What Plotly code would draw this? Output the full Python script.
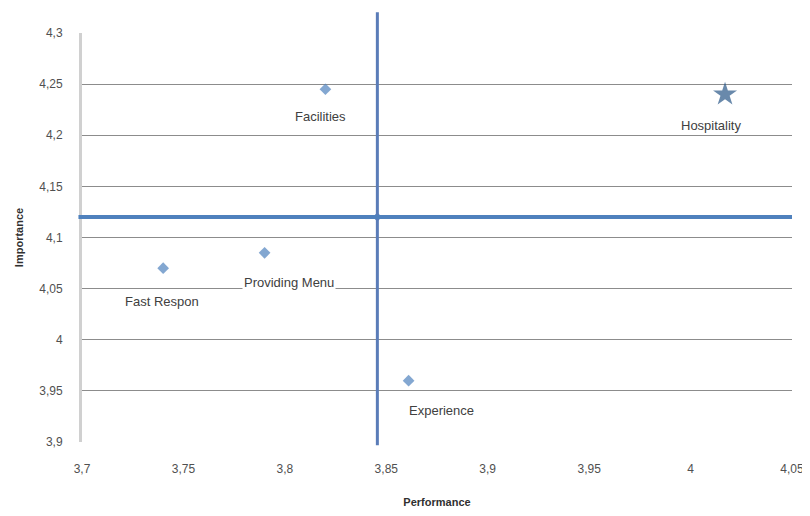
import plotly.graph_objects as go

# Data
attributes = ["Facilities", "Hospitality", "Fast Respon", "Providing Menu", "Experience"]
performance = [3.82, 4.017, 3.74, 3.79, 3.861]
importance = [4.245, 4.24, 4.07, 4.085, 3.96]
marker_symbols = ["diamond", "star", "diamond", "diamond", "diamond"]

x_tick_vals = [3.7, 3.75, 3.8, 3.85, 3.9, 3.95, 4.0, 4.05]
x_tick_text = ["3,7", "3,75", "3,8", "3,85", "3,9", "3,95", "4", "4,05"]
y_tick_vals = [3.9, 3.95, 4.0, 4.05, 4.1, 4.15, 4.2, 4.25, 4.3]
y_tick_text = ["3,9", "3,95", "4", "4,05", "4,1", "4,15", "4,2", "4,25", "4,3"]

mean_x = sum(performance) / len(performance)
mean_y = sum(importance) / len(importance)

# label offsets in pixels (xshift, yshift)
label_shift = {
    "Facilities": (-5, -27),
    "Hospitality": (-14, -31),
    "Fast Respon": (-1, -33),
    "Providing Menu": (24, -30),
    "Experience": (33, -30),
}

fig = go.Figure()

# quadrant lines
fig.add_shape(type="line", xref="x", yref="paper", x0=mean_x, x1=mean_x,
              y0=-0.008, y1=1.051, line=dict(color="#5A7CB8", width=3), layer="above")
fig.add_shape(type="line", xref="paper", yref="y", x0=-0.005, x1=1.0,
              y0=mean_y, y1=mean_y, line=dict(color="#4F81BD", width=4), layer="above")

sizes = [9 if s == "diamond" else 18 for s in marker_symbols]
colors = ["#4F81BD" if s == "diamond" else "#2A5788" for s in marker_symbols]

fig.add_trace(go.Scatter(
    x=performance, y=importance, mode="markers",
    marker=dict(symbol=marker_symbols, size=sizes, color=colors, line=dict(width=0)),
    showlegend=False, hoverinfo="skip", cliponaxis=False,
))
fig.add_trace(go.Scatter(
    x=[mean_x], y=[mean_y], mode="markers",
    marker=dict(symbol="diamond", size=7, color="#4F81BD"),
    showlegend=False, hoverinfo="skip",
))

for name, xv, yv in zip(attributes, performance, importance):
    dx, dy = label_shift[name]
    fig.add_annotation(x=xv, y=yv, text=name, showarrow=False,
                       xshift=dx, yshift=dy, bgcolor="white",
                       font=dict(family="Liberation Sans", size=13, color="#404040"))

fig.update_xaxes(range=[3.69999, 4.05001], tickvals=x_tick_vals, ticktext=x_tick_text,
                 showgrid=False, zeroline=False, showline=False, automargin=False,
                 tickfont=dict(family="Liberation Sans", size=12, color="#505050"),
                 ticks="", ticklabelstandoff=18, ticklabeloverflow="allow",
                 title=dict(text="<b>Performance</b>", standoff=30,
                            font=dict(family="Liberation Sans", size=11, color="#303030")))
fig.update_yaxes(range=[3.9, 4.3], tickvals=y_tick_vals, ticktext=y_tick_text,
                 showgrid=True, gridcolor="#8C8C8C", gridwidth=1, zeroline=False,
                 showline=True, linecolor="#D0D0D0", linewidth=3, automargin=False,
                 tickfont=dict(family="Liberation Sans", size=12, color="#505050"),
                 ticks="", ticklabelstandoff=14,
                 title=dict(text="<b>Importance</b>", standoff=14,
                            font=dict(family="Liberation Sans", size=11, color="#303030")))

fig.update_layout(
    width=802, height=500,
    margin=dict(l=74, r=18, t=25, b=66),
    plot_bgcolor="white", paper_bgcolor="white",
)

fig.write_html("out.html")
